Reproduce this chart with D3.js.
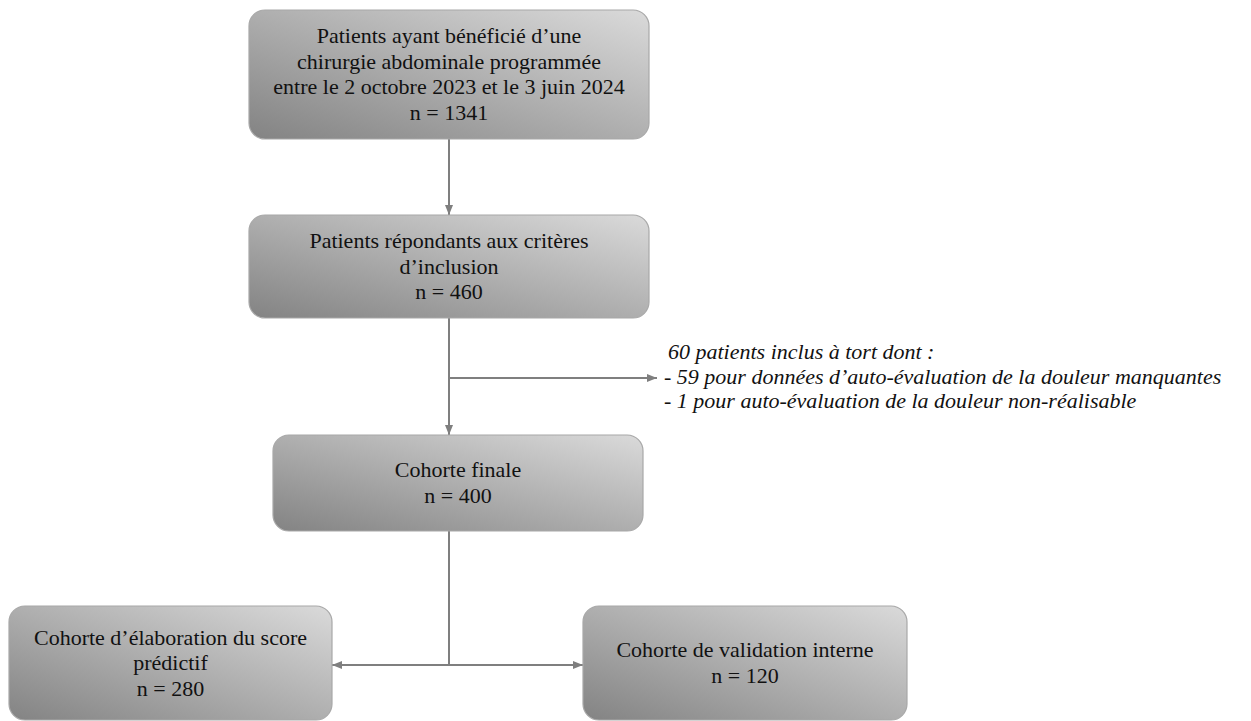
<!DOCTYPE html>
<html>
<head>
<meta charset="utf-8">
<script src="https://cdn.jsdelivr.net/npm/d3@7"></script>
<style>
  html, body { margin: 0; padding: 0; background: #fff; }
  svg { display: block; }
</style>
</head>
<body>
<div id="dataviz"></div>
<script>
// box contents (text + counts)
var boxTitles = [
  ["Patients ayant bénéficié d\u2019une", "chirurgie abdominale programmée", "entre le 2 octobre 2023 et le 3 juin 2024"],
  ["Patients répondants aux critères", "d\u2019inclusion"],
  ["Cohorte finale"],
  ["Cohorte d\u2019élaboration du score", "prédictif"],
  ["Cohorte de validation interne"]
];
var boxCounts = [1341, 460, 400, 280, 120];

var exclusionLines = [
  "60 patients inclus à tort dont :",
  "- 59 pour données d\u2019auto-évaluation de la douleur manquantes",
  "- 1 pour auto-évaluation de la douleur non-réalisable"
];

var width = 1251, height = 721;

var svg = d3.select("#dataviz")
  .append("svg")
    .attr("width", width)
    .attr("height", height);

// layout of the boxes [x0, y0, x1, y1]
var boxGeom = [
  [249, 10, 649, 139],
  [249, 215, 649, 318],
  [273, 435, 643, 531],
  [9, 606, 332, 720],
  [583, 606, 907, 720]
];

var defs = svg.append("defs");
var grad = defs.append("linearGradient")
    .attr("id", "boxGrad")
    .attr("x1", "0").attr("y1", "1")
    .attr("x2", "1").attr("y2", "0");
grad.append("stop").attr("offset", "0%").attr("stop-color", "#838383");
grad.append("stop").attr("offset", "100%").attr("stop-color", "#dadada");

defs.append("marker")
    .attr("id", "arrow")
    .attr("viewBox", "0 0 10 10")
    .attr("refX", 10).attr("refY", 5)
    .attr("markerWidth", 10).attr("markerHeight", 10)
    .attr("markerUnits", "userSpaceOnUse")
    .attr("orient", "auto-start-reverse")
  .append("path")
    .attr("d", "M0,1 L10,5 L0,9 Z")
    .attr("fill", "#7f7f7f");

var lineColor = "#7f7f7f";
var cx = 449;

// connectors
var links = [
  {pts: [[cx, 139], [cx, 215]], end: true},
  {pts: [[cx, 318], [cx, 435]], end: true},
  {pts: [[cx, 378], [657, 378]], end: true},
  {pts: [[cx, 531], [cx, 665]], end: false},
  {pts: [[332, 665], [583, 665]], start: true, end: true}
];

var line = d3.line();
svg.selectAll(".link")
  .data(links)
  .enter()
  .append("path")
    .classed("link", true)
    .attr("d", function(d){ return line(d.pts); })
    .attr("fill", "none")
    .attr("stroke", lineColor)
    .attr("stroke-width", 2)
    .attr("marker-end", function(d){ return d.end ? "url(#arrow)" : null; })
    .attr("marker-start", function(d){ return d.start ? "url(#arrow)" : null; });

// boxes
var boxes = svg.selectAll(".box")
  .data(boxTitles.map(function(t, i){
      return {lines: t.concat(["n = " + boxCounts[i]]), g: boxGeom[i]};
  }))
  .enter()
  .append("g")
    .classed("box", true);

boxes.append("rect")
    .attr("x", function(d){ return d.g[0]; })
    .attr("y", function(d){ return d.g[1]; })
    .attr("width", function(d){ return d.g[2] - d.g[0]; })
    .attr("height", function(d){ return d.g[3] - d.g[1]; })
    .attr("rx", 16).attr("ry", 16)
    .attr("fill", "url(#boxGrad)")
    .attr("stroke", "#a8a8a8")
    .attr("stroke-width", 1.2);

var fontSize = 22, lh = 25.5;
boxes.append("text")
    .attr("font-family", "'Liberation Serif', 'Times New Roman', serif")
    .attr("font-size", fontSize)
    .attr("fill", "#111")
    .attr("text-anchor", "middle")
    .each(function(d){
        var midX = (d.g[0] + d.g[2]) / 2;
        var midY = (d.g[1] + d.g[3]) / 2;
        var y0 = midY - (d.lines.length - 1) * lh / 2 + fontSize * 0.32;
        d3.select(this).selectAll("tspan")
          .data(d.lines)
          .enter()
          .append("tspan")
            .attr("x", midX)
            .attr("y", function(s, j){ return y0 + j * lh; })
            .text(function(s){ return s; });
    });

// exclusion note
svg.append("text")
    .attr("font-family", "'Liberation Serif', 'Times New Roman', serif")
    .attr("font-style", "italic")
    .attr("font-size", 22)
    .attr("fill", "#111")
  .selectAll("tspan")
  .data(exclusionLines)
  .enter()
  .append("tspan")
    .attr("x", function(d, i){ return i === 0 ? 668 : 664; })
    .attr("y", function(d, i){ return 359 + i * 24.5; })
    .text(function(d){ return d; });
</script>
</body>
</html>
